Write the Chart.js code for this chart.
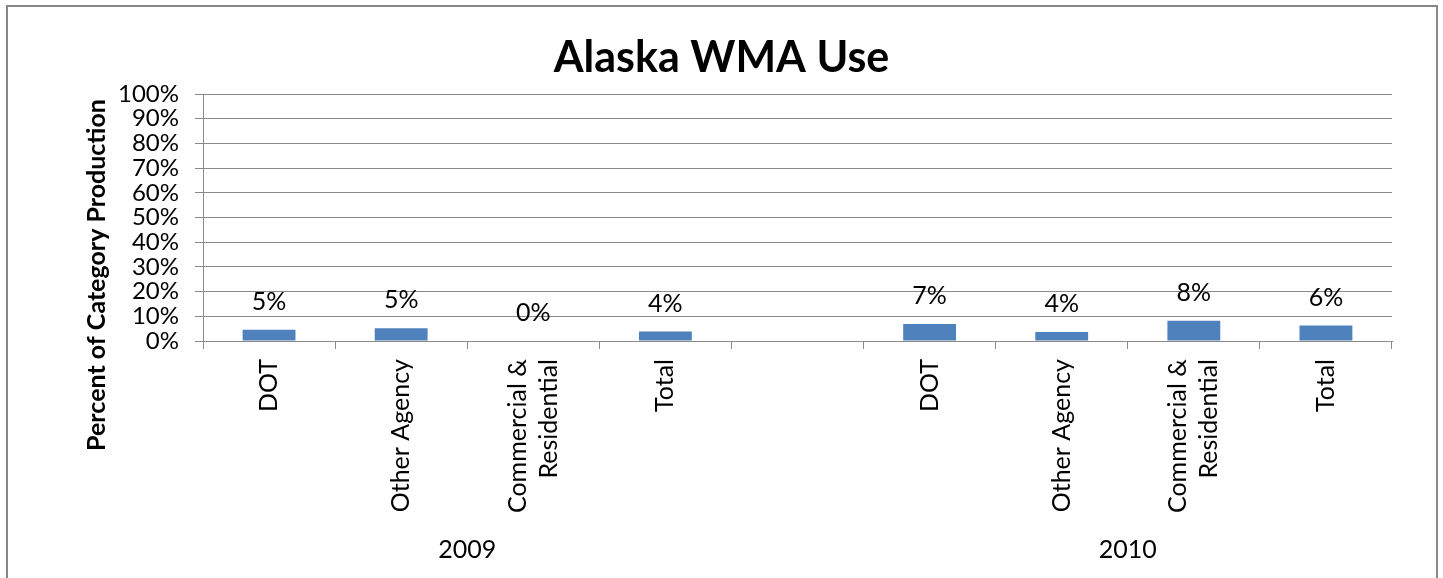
<!DOCTYPE html>
<html>
<head>
<meta charset="utf-8">
<title>Alaska WMA Use</title>
<script src="https://cdn.jsdelivr.net/npm/chart.js@4.4.1/dist/chart.umd.min.js"></script>
<style>
  html, body { margin: 0; padding: 0; background: #fff; }
  canvas { display: block; }
</style>
</head>
<body>
<canvas id="chart" width="1443" height="578"></canvas>
<script>
"use strict";

// categories (multi-line labels as arrays), one empty slot between the years
const categories = [
  ['DOT'], ['Other Agency'], ['Commercial &', 'Residential'], ['Total'],
  [''],
  ['DOT'], ['Other Agency'], ['Commercial &', 'Residential'], ['Total']
];
const years = ['2009', '2010'];
const yearFirst = [0, 5];
const yearLast = [3, 8];
const usePercent = [4.6, 5.2, 0, 3.8, null, 6.9, 3.6, 8.2, 6.3];
const yMin = 0;
const yMax = 100;
const yStep = 10;

const FONT = 'Lato, "Open Sans", sans-serif';
const GRID = '#8a8a8a';

// white background, grey frame and the chart title
const framePlugin = {
  id: 'frame',
  beforeDraw(chart) {
    const ctx = chart.ctx;
    ctx.save();
    ctx.fillStyle = '#fff';
    ctx.fillRect(0, 0, chart.width, chart.height);
    ctx.strokeStyle = '#878787';
    ctx.lineWidth = 2;
    ctx.strokeRect(7, 6, 1430, 600);
    ctx.fillStyle = '#000';
    ctx.font = 'bold 43px ' + FONT;
    ctx.textAlign = 'center';
    ctx.textBaseline = 'middle';
    ctx.fillText('Alaska WMA Use', chart.width / 2, 58);
    ctx.restore();
  }
};

// percent labels above each bar
const valueLabels = {
  id: 'valueLabels',
  afterDatasetsDraw(chart) {
    const ctx = chart.ctx;
    const meta = chart.getDatasetMeta(0);
    ctx.save();
    ctx.font = '25px ' + FONT;
    ctx.fillStyle = '#000';
    ctx.textAlign = 'center';
    ctx.textBaseline = 'middle';
    meta.data.forEach((bar, i) => {
      const v = usePercent[i];
      if (v === null) return;
      ctx.fillText(Math.round(v) + '%', bar.x, bar.y - 28);
    });
    ctx.restore();
  }
};

// rotated category labels, the year row and the y axis title
const axisText = {
  id: 'axisText',
  afterDraw(chart) {
    const ctx = chart.ctx;
    const x = chart.scales.x;
    ctx.save();
    ctx.fillStyle = '#000';
    ctx.font = '25px ' + FONT;
    ctx.textAlign = 'right';
    ctx.textBaseline = 'middle';
    const lineH = 31;
    categories.forEach((lines, i) => {
      const cx = x.getPixelForValue(i);
      lines.forEach((line, j) => {
        const off = (j - (lines.length - 1) / 2) * lineH;
        ctx.save();
        ctx.translate(cx + off, x.top + 18);
        ctx.rotate(-Math.PI / 2);
        ctx.fillText(line, 0, 0);
        ctx.restore();
      });
    });

    ctx.textAlign = 'center';
    years.forEach((y, k) => {
      const cx = (x.getPixelForValue(yearFirst[k]) + x.getPixelForValue(yearLast[k])) / 2;
      ctx.fillText(y, cx, 550);
    });

    ctx.font = 'bold 25px ' + FONT;
    ctx.translate(97, 275);
    ctx.rotate(-Math.PI / 2);
    ctx.fillText('Percent of Category Production', 0, 0);
    ctx.restore();
  }
};

new Chart(document.getElementById('chart'), {
  type: 'bar',
  data: {
    labels: categories,
    datasets: [{
      data: usePercent,
      backgroundColor: '#4F81BD',
      borderWidth: 0,
      categoryPercentage: 1,
      barPercentage: 0.4
    }]
  },
  options: {
    responsive: false,
    animation: false,
    layout: { padding: { left: 0, right: 51, top: 94, bottom: 0 } },
    plugins: {
      legend: { display: false },
      tooltip: { enabled: false },
      title: { display: false }
    },
    scales: {
      x: {
        grid: { offset: true, drawOnChartArea: false, tickLength: 8, color: GRID },
        border: { color: GRID },
        ticks: { display: false },
        afterFit(scale) { scale.height = 237; }
      },
      y: {
        min: yMin,
        max: yMax,
        grid: { color: GRID, tickLength: 8 },
        border: { color: GRID },
        ticks: {
          stepSize: yStep,
          autoSkip: false,
          color: '#000',
          padding: 16,
          font: { family: FONT, size: 24 },
          callback: v => v + '%'
        },
        afterFit(scale) { scale.width = 203; }
      }
    }
  },
  plugins: [framePlugin, valueLabels, axisText]
});
</script>
</body>
</html>
